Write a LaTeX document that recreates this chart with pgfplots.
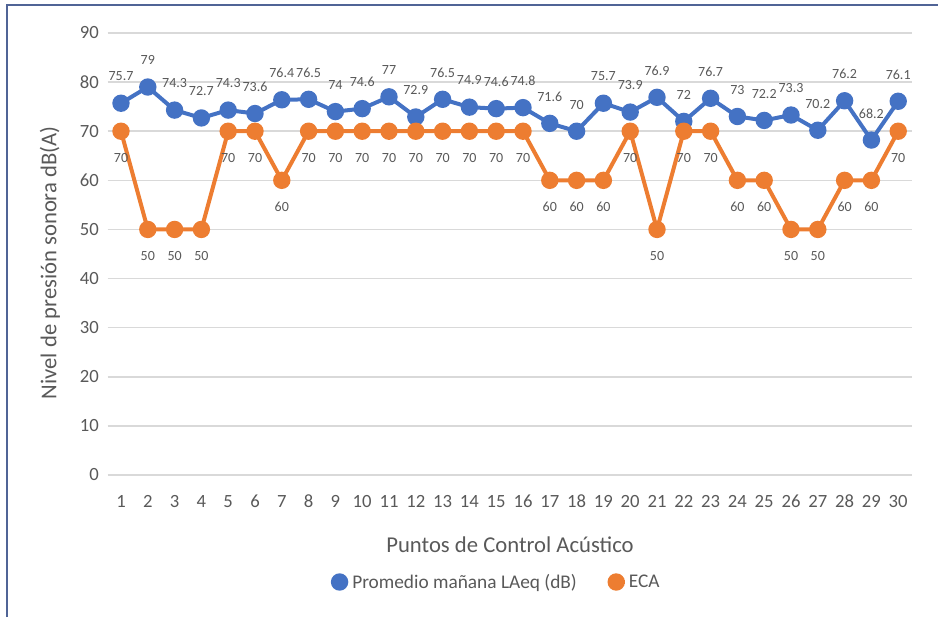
\documentclass[border=0pt]{standalone}
\usepackage{pgfplots}
\pgfplotsset{compat=1.18}
\usepackage{pgfplotstable}
\usepackage{fontspec}
\setmainfont{Carlito}
\definecolor{lblue}{HTML}{4472C4}
\definecolor{lorange}{HTML}{ED7D31}
\definecolor{txt}{HTML}{595959}
\definecolor{gridc}{HTML}{D9D9D9}
\definecolor{frame}{RGB}{80,100,150}

\pgfplotstableread{
x  y     lab
1  75.7  75.7
2  79    79
3  74.3  74.3
4  72.7  72.7
5  74.3  74.3
6  73.6  73.6
7  76.4  76.4
8  76.5  76.5
9  74    74
10 74.6  74.6
11 77    77
12 72.9  72.9
13 76.5  76.5
14 74.9  74.9
15 74.6  74.6
16 74.8  74.8
17 71.6  71.6
18 70    70
19 75.7  75.7
20 73.9  73.9
21 76.9  76.9
22 72    72
23 76.7  76.7
24 73    73
25 72.2  72.2
26 73.3  73.3
27 70.2  70.2
28 76.2  76.2
29 68.2  68.2
30 76.1  76.1
}\laeq

\pgfplotstableread{
x  y   lab
1  70  70
2  50  50
3  50  50
4  50  50
5  70  70
6  70  70
7  60  60
8  70  70
9  70  70
10 70  70
11 70  70
12 70  70
13 70  70
14 70  70
15 70  70
16 70  70
17 60  60
18 60  60
19 60  60
20 70  70
21 50  50
22 70  70
23 70  70
24 60  60
25 60  60
26 50  50
27 50  50
28 60  60
29 60  60
30 70  70
}\eca

\begin{document}
\begin{tikzpicture}
\useasboundingbox (-80.7pt,-106.5pt) rectangle (630.3pt,356.25pt);
\draw[frame, line width=1.2pt] (-75.45pt,-106.5pt) -- (-75.45pt,352.5pt) -- (622.8pt,352.5pt);
\begin{axis}[
    scale only axis,
    width=603pt, height=331.5pt,
    xmin=0.5, xmax=30.5,
    ymin=0, ymax=90,
    xtick={1,...,30},
    ytick={0,10,...,90},
    axis line style={draw=none},
    major tick length=0pt,
    ymajorgrids,
    grid style={gridc, line width=1.1pt},
    tick label style={font=\fontsize{14}{16}\selectfont, text=txt},
    /pgf/number format/assume math mode=true,
    xticklabel style={yshift=-11pt, text height=10pt, text depth=1pt},
    yticklabel style={xshift=-3pt},
    xlabel={Puntos de Control Acústico},
    ylabel={Nivel de presión sonora dB(A)},
    label style={font=\fontsize{17}{20}\selectfont, text=txt},
    xlabel style={at={(axis description cs:0.5005,-0.158)}, anchor=center},
    ylabel style={at={(axis description cs:-0.0716,0.48)}, anchor=center},
    legend columns=2,
    legend style={at={(axis description cs:0.483,0)}, anchor=center, yshift=-80.25pt,
        draw=none, font=\fontsize{14.5}{17}\selectfont, text=txt,
        /tikz/every even column/.append style={column sep=20pt}},
    legend image code/.code={
        \draw[#1, line width=2.5pt] (-0.22cm,0cm) -- (0.22cm,0cm);
        \draw[#1, mark=*, mark size=5pt, mark options={solid}] plot coordinates {(0cm,0cm)};
    },
    nodes near coords,
    point meta=explicit symbolic,
    every node near coord/.append style={font=\fontsize{10.5}{12}\selectfont, text=txt, anchor=center},
    clip=false,
]
\addplot[lblue, line width=3pt, mark=*, mark size=5pt,
    every node near coord/.append style={yshift=20pt}]
    table[x=x, y=y, meta=lab] {\laeq};
\addlegendentry{Promedio mañana LAeq (dB)}
\addplot[lorange, line width=3pt, mark=*, mark size=5pt,
    every node near coord/.append style={yshift=-20pt}]
    table[x=x, y=y, meta=lab] {\eca};
\addlegendentry{ECA}
\end{axis}
\end{tikzpicture}
\end{document}
